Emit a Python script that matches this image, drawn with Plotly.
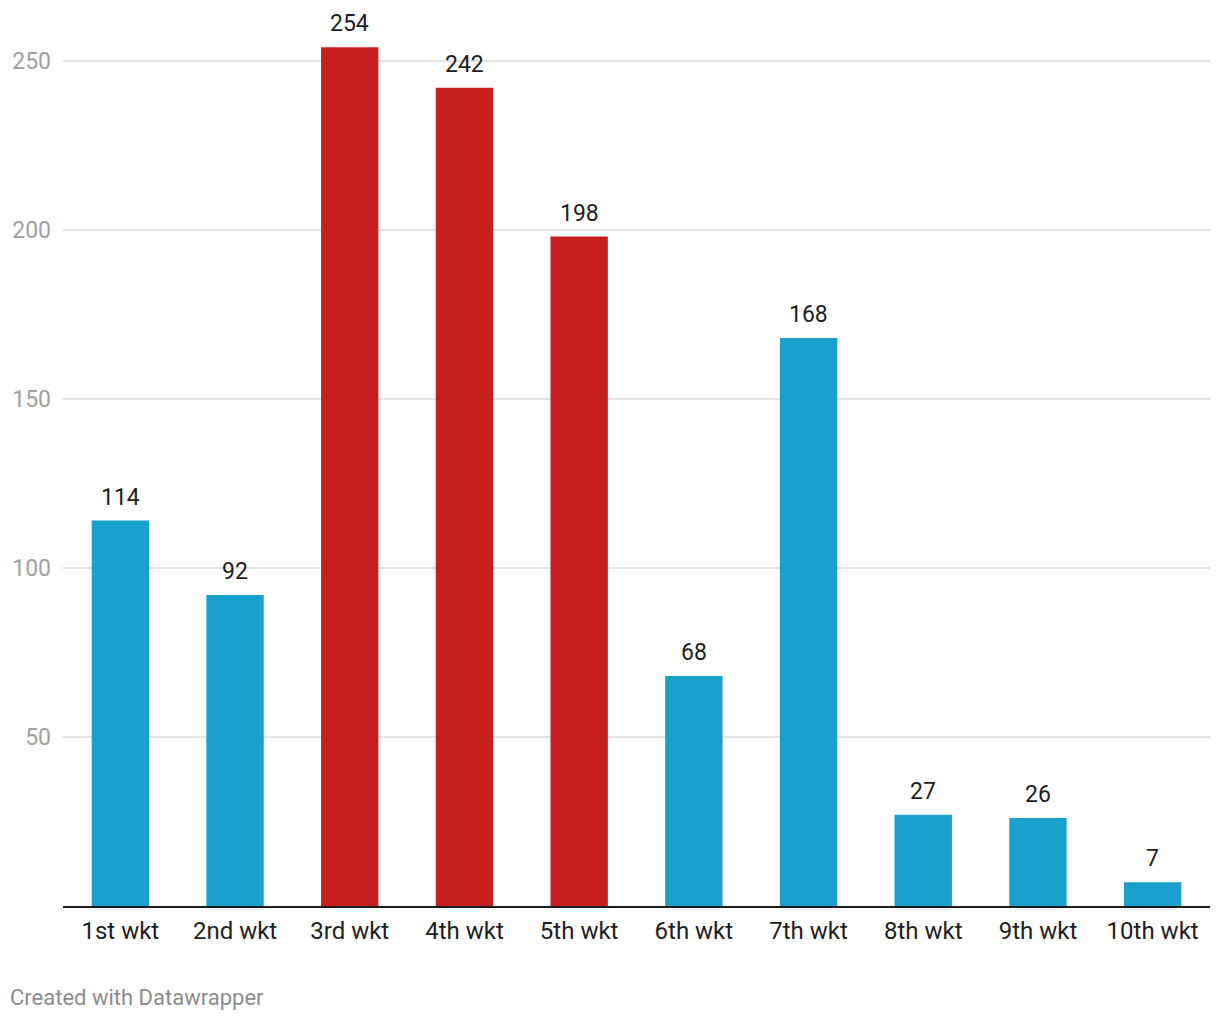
import plotly.graph_objects as go

categories = ["1st wkt", "2nd wkt", "3rd wkt", "4th wkt", "5th wkt",
              "6th wkt", "7th wkt", "8th wkt", "9th wkt", "10th wkt"]
values = [114, 92, 254, 242, 198, 68, 168, 27, 26, 7]
highlight = [False, False, True, True, True, False, False, False, False, False]
tick_vals = [50, 100, 150, 200, 250]

BLUE = "#19a0cd"
RED = "#c71e1e"
colors = [RED if h else BLUE for h in highlight]

fig = go.Figure(go.Bar(
    x=categories, y=values,
    marker=dict(color=colors, line=dict(width=0)),
    width=0.5,
    hoverinfo="skip",
))

annotations = [dict(
    x=c, y=v, xref="x", yref="y", text=str(v), showarrow=False,
    yanchor="bottom", yshift=8,
    font=dict(family="Roboto", size=23, color="#1d1d1d"),
) for c, v in zip(categories, values)]

annotations.append(dict(
    text="Created with Datawrapper", xref="paper", yref="paper",
    x=-55/1147, y=-91/896, xanchor="left", yanchor="middle",
    showarrow=False, font=dict(family="Roboto", size=22, color="#8c8c8c"),
))

fig.update_layout(
    width=1212, height=1012,
    margin=dict(l=55, r=10, t=2, b=114),
    paper_bgcolor="white", plot_bgcolor="white",
    showlegend=False,
    font=dict(family="Roboto", size=20, color="#1d1d1d"),
    xaxis=dict(
        showgrid=False, showline=True, linecolor="#1d1d1d", linewidth=2,
        ticks="", tickfont=dict(family="Roboto", size=24, color="#1d1d1d"),
        ticklabelstandoff=2, automargin=False,
    ),
    yaxis=dict(
        range=[0, 265], tickvals=tick_vals,
        showgrid=True, gridcolor="#e3e3e3", gridwidth=1.5,
        zeroline=False, showline=False, ticks="",
        tickfont=dict(family="Roboto", size=23, color="#a0a0a0"),
        ticklabelstandoff=11, automargin=False,
    ),
    annotations=annotations,
)

fig.write_html("out.html")
